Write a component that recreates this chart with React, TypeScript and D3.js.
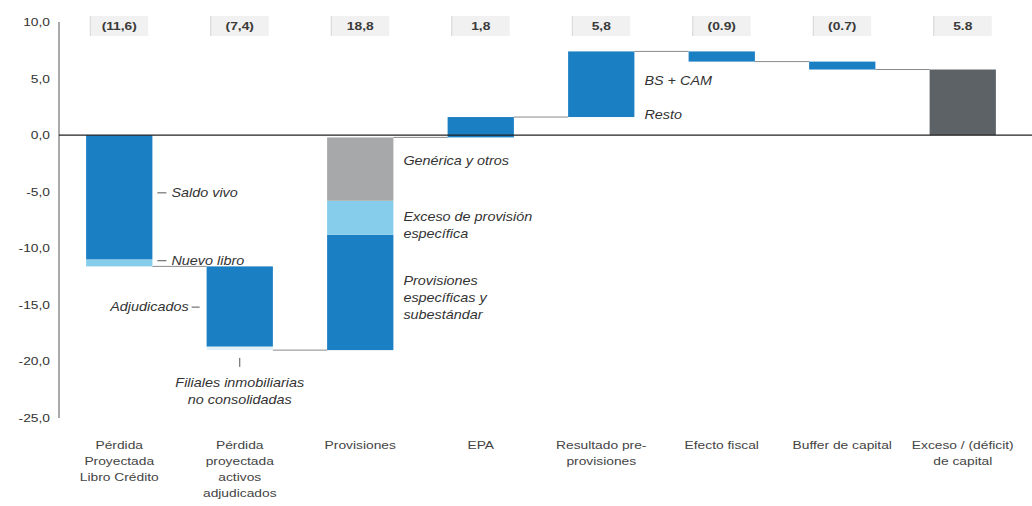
import React from "react";
import * as d3 from "d3";

// Waterfall: capital impact by component (billions)
const categories: string[][] = [
  ["Pérdida", "Proyectada", "Libro Crédito"],
  ["Pérdida", "proyectada", "activos", "adjudicados"],
  ["Provisiones"],
  ["EPA"],
  ["Resultado pre-", "provisiones"],
  ["Efecto fiscal"],
  ["Buffer de capital"],
  ["Exceso / (déficit)", "de capital"],
];

// Stacked pieces of every step, in the order they are piled from the running level
const steps: number[][] = [
  [-11.0, -0.6],
  [-7.1, -0.3],
  [10.2, 3.0, 5.6],
  [1.8],
  [5.8],
  [-0.9],
  [-0.7],
  [5.8],
];
const stepTones: string[][] = [
  ["blue", "sky"],
  ["blue", "mist"],
  ["blue", "sky", "grey"],
  ["blue"],
  ["blue"],
  ["blue"],
  ["blue"],
  ["slate"],
];
const isTotal = [false, false, false, false, false, false, false, true];
const decimalMarks = [",", ",", ",", ",", ",", ".", ".", "."];
const yTicks = [10, 5, 0, -5, -10, -15, -20, -25];

// Side notes: bar index, value they sit at, placement and text lines
type Note = { bar: number; at: number; side: "right" | "rightPlain" | "left" | "below"; lines: string[] };
const notes: Note[] = [
  { bar: 0, at: -5.1, side: "right", lines: ["Saldo vivo"] },
  { bar: 0, at: -11.1, side: "right", lines: ["Nuevo libro"] },
  { bar: 1, at: -15.2, side: "left", lines: ["Adjudicados"] },
  { bar: 1, at: -19.6, side: "below", lines: ["Filiales inmobiliarias", "no consolidadas"] },
  { bar: 2, at: -2.3, side: "rightPlain", lines: ["Genérica y otros"] },
  { bar: 2, at: -7.95, side: "rightPlain", lines: ["Exceso de provisión", "específica"] },
  { bar: 2, at: -14.4, side: "rightPlain", lines: ["Provisiones", "específicas y", "subestándar"] },
  { bar: 4, at: 4.8, side: "rightPlain", lines: ["BS + CAM"] },
  { bar: 4, at: 1.8, side: "rightPlain", lines: ["Resto"] },
];

const W = 1032;
const H = 506;
const FONT = "'Liberation Sans', Arial, sans-serif";
const SX = 1.2;
const palette: Record<string, string> = {
  blue: "#1b7fc3",
  sky: "#86cdeb",
  mist: "#e2f0f8",
  grey: "#a7a8a9",
  slate: "#5c6266",
};

type TProps = {
  x: number;
  y: number;
  anchor?: "start" | "middle" | "end";
  size?: number;
  italic?: boolean;
  bold?: boolean;
  fill?: string;
  children: React.ReactNode;
};
function T({ x, y, anchor = "start", size = 12, italic, bold, fill = "#333", children }: TProps) {
  return (
    <text
      transform={`translate(${x},${y}) scale(${SX},1)`}
      textAnchor={anchor}
      fontSize={size}
      fontFamily={FONT}
      fontStyle={italic ? "italic" : "normal"}
      fontWeight={bold ? 700 : 400}
      fill={fill}
    >
      {children}
    </text>
  );
}

export default function App() {
  const axisX = 59;
  const x = d3
    .scaleBand<number>()
    .domain(d3.range(categories.length))
    .range([axisX, 1023])
    .paddingInner(0.45)
    .paddingOuter(0.225);
  const y = d3.scaleLinear().domain([-25, 10]).range([418, 22]);
  const bw = x.bandwidth();

  // running levels for the waterfall
  let level = 0;
  const bars = steps.map((pieces, i) => {
    const start = isTotal[i] ? 0 : level;
    let cur = start;
    const segs = pieces.map((v, j) => {
      const s = { from: cur, to: cur + v, tone: stepTones[i][j] };
      cur += v;
      return s;
    });
    const sum = d3.sum(pieces);
    level = cur;
    return { i, start, end: cur, sum, segs };
  });

  const fmt = (v: number, mark: string) => {
    const s = Math.abs(v).toFixed(1).replace(".", mark);
    return v < 0 ? `(${s})` : s;
  };

  const lineH = 17;

  return (
    <svg
      width={W}
      height={H}
      style={{ position: "absolute", left: 0, top: 0, background: "#fff" }}
    >
      <rect width={W} height={H} fill="#fff" />

      {/* value boxes along the top */}
      {bars.map((b) => {
        const cx = (x(b.i) as number) + bw / 2;
        return (
          <g key={`v${b.i}`}>
            <rect x={cx - 29} y={16} width={58} height={20} fill="#f1f1f1" />
            <line x1={cx - 29} x2={cx - 29} y1={16} y2={36} stroke="#d4d4d4" />
            <T x={cx} y={30} anchor="middle" size={11.5} bold fill="#3a3a3a">
              {fmt(b.sum, decimalMarks[b.i])}
            </T>
          </g>
        );
      })}

      {/* connectors between steps */}
      {bars.slice(0, -1).map((b) => (
        <line
          key={`c${b.i}`}
          x1={(x(b.i) as number) + bw}
          x2={x(b.i + 1) as number}
          y1={y(b.end)}
          y2={y(b.end)}
          stroke="#8a8a8a"
          strokeWidth={1}
        />
      ))}

      {/* bars */}
      {bars.map((b) =>
        b.segs.map((s, j) => (
          <rect
            key={`b${b.i}-${j}`}
            x={x(b.i) as number}
            width={bw}
            y={y(Math.max(s.from, s.to))}
            height={Math.abs(y(s.from) - y(s.to))}
            fill={palette[s.tone]}
          />
        ))
      )}

      {/* axes */}
      <line x1={axisX} x2={axisX} y1={y(10)} y2={y(-25)} stroke="#555" strokeWidth={1} />
      <line x1={axisX} x2={W} y1={y(0)} y2={y(0)} stroke="#222" strokeWidth={1.3} />
      {yTicks.map((t) => (
        <T key={`t${t}`} x={50} y={y(t) + 4} anchor="end" size={11.5} fill="#333">
          {t.toFixed(1).replace(".", ",")}
        </T>
      ))}

      {/* category labels */}
      {categories.map((lines, i) => (
        <g key={`k${i}`}>
          {lines.map((ln, j) => (
            <T
              key={j}
              x={(x(i) as number) + bw / 2}
              y={449 + j * 16}
              anchor="middle"
              size={11.5}
              fill="#444"
            >
              {ln}
            </T>
          ))}
        </g>
      ))}

      {/* side notes */}
      {notes.map((n, k) => {
        const left = x(n.bar) as number;
        const right = left + bw;
        const cy = y(n.at);
        const top = cy - ((n.lines.length - 1) * lineH) / 2 + 4;
        if (n.side === "right") {
          return (
            <g key={`n${k}`}>
              <line x1={right + 5} x2={right + 14} y1={cy} y2={cy} stroke="#555" />
              <T x={right + 19} y={cy + 4} italic>
                {n.lines[0]}
              </T>
            </g>
          );
        }
        if (n.side === "left") {
          return (
            <g key={`n${k}`}>
              <line x1={left - 15} x2={left - 7} y1={cy} y2={cy} stroke="#555" />
              <T x={left - 18} y={cy + 4} anchor="end" italic>
                {n.lines[0]}
              </T>
            </g>
          );
        }
        if (n.side === "below") {
          const cx = left + bw / 2;
          return (
            <g key={`n${k}`}>
              <line x1={cx} x2={cx} y1={cy + 1} y2={cy + 10} stroke="#555" />
              {n.lines.map((ln, j) => (
                <T key={j} x={cx} y={cy + 30 + j * lineH} anchor="middle" italic>
                  {ln}
                </T>
              ))}
            </g>
          );
        }
        return (
          <g key={`n${k}`}>
            {n.lines.map((ln, j) => (
              <T key={j} x={right + 10} y={top + j * lineH} italic>
                {ln}
              </T>
            ))}
          </g>
        );
      })}
    </svg>
  );
}
